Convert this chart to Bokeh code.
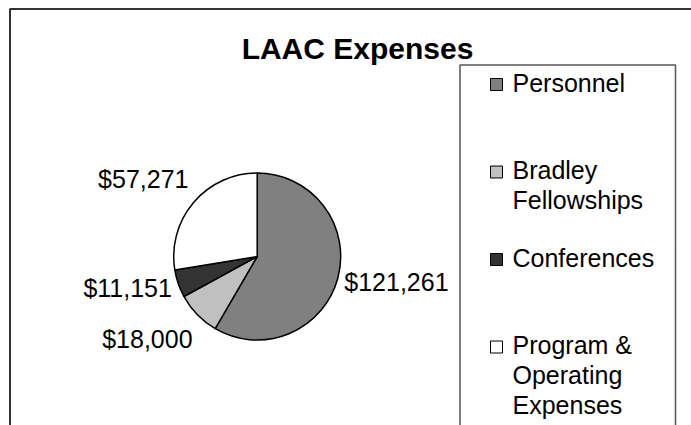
import numpy as np
from bokeh.plotting import figure
from bokeh.models import Range1d, ColumnDataSource
from bokeh.core.properties import value
from bokeh.embed import file_html
from bokeh.resources import INLINE

# ---- data ----
categories = ["Personnel", "Bradley Fellowships", "Conferences", "Program & Operating Expenses"]
legend_lines = [["Personnel"], ["Bradley", "Fellowships"], ["Conferences"], ["Program &", "Operating", "Expenses"]]
amounts = [121261, 18000, 11151, 57271]
value_labels = ["$121,261", "$18,000", "$11,151", "$57,271"]
colors = ["#808080", "#C0C0C0", "#333333", "#FFFFFF"]
title_text = "LAAC Expenses"

W, H = 691, 425
FONT = "Liberation Sans"

def Y(top):
    return H - top

p = figure(width=W, height=H, output_backend="svg", toolbar_location=None,
           x_range=Range1d(0, W), y_range=Range1d(0, H), min_border=0,
           outline_line_color=None, background_fill_color="white", border_fill_color="white")
p.axis.visible = False
p.grid.visible = False

# outer chart frame
p.quad(left=[9.5], right=[W + 20], top=[Y(8.5)], bottom=[-20],
       fill_color=None, line_color="#333333", line_width=2)

# pie
cx, cy, r = 256.7, Y(256), 83.5
vals = np.array(amounts, dtype=float)
frac = vals / vals.sum()
cum = np.concatenate([[0], np.cumsum(frac)])
start = np.pi / 2 - 2 * np.pi * cum[1:]
end = np.pi / 2 - 2 * np.pi * cum[:-1]
src = ColumnDataSource(dict(start=start, end=end, color=colors))
p.wedge(x=cx, y=cy, radius=r, start_angle="start", end_angle="end",
        fill_color="color", line_color="black", line_width=1.5, source=src)

# data labels
mid = np.pi / 2 - 2 * np.pi * (cum[:-1] + frac / 2)
lx = cx + r * 1.08 * np.cos(mid)
ly = cy + r * 1.18 * np.sin(mid)
aligns = ["left" if np.cos(m) > 0 else "right" for m in mid]
baselines = ["bottom" if np.sin(m) > 0.5 else ("top" if np.sin(m) < -0.5 else "middle") for m in mid]
lsrc = ColumnDataSource(dict(x=lx, y=ly, t=value_labels, a=aligns, b=baselines))
p.text(x="x", y="y", text="t", text_align="a", text_baseline="b", source=lsrc,
       text_font=value(FONT), text_font_size="25px", text_color="black")

# title
p.text(x=[357], y=[Y(48)], text=[title_text], text_align="center", text_baseline="middle",
       text_font=value(FONT), text_font_size="30px", text_font_style="bold", text_color="black")

# legend box
p.quad(left=[459.5], right=[675], top=[Y(64.5)], bottom=[-20],
       fill_color="white", line_color="#555555", line_width=1.5)

tx, ty, tt = [], [], []
mx, my = [], []
for i, lines in enumerate(legend_lines):
    y0 = 82 + 87.5 * i
    mx.append(496)
    my.append(Y(y0 + 2))
    for j, ln in enumerate(lines):
        tx.append(512)
        ty.append(Y(y0 + 30 * j))
        tt.append(ln)
p.scatter(x=mx, y=my, marker="square", size=12, fill_color=colors, line_color="black", line_width=1)
p.text(x=tx, y=ty, text=tt, text_align="left", text_baseline="middle",
       text_font=value(FONT), text_font_size="25px", text_color="black")

open("out.html", "w").write(file_html(p, INLINE))
